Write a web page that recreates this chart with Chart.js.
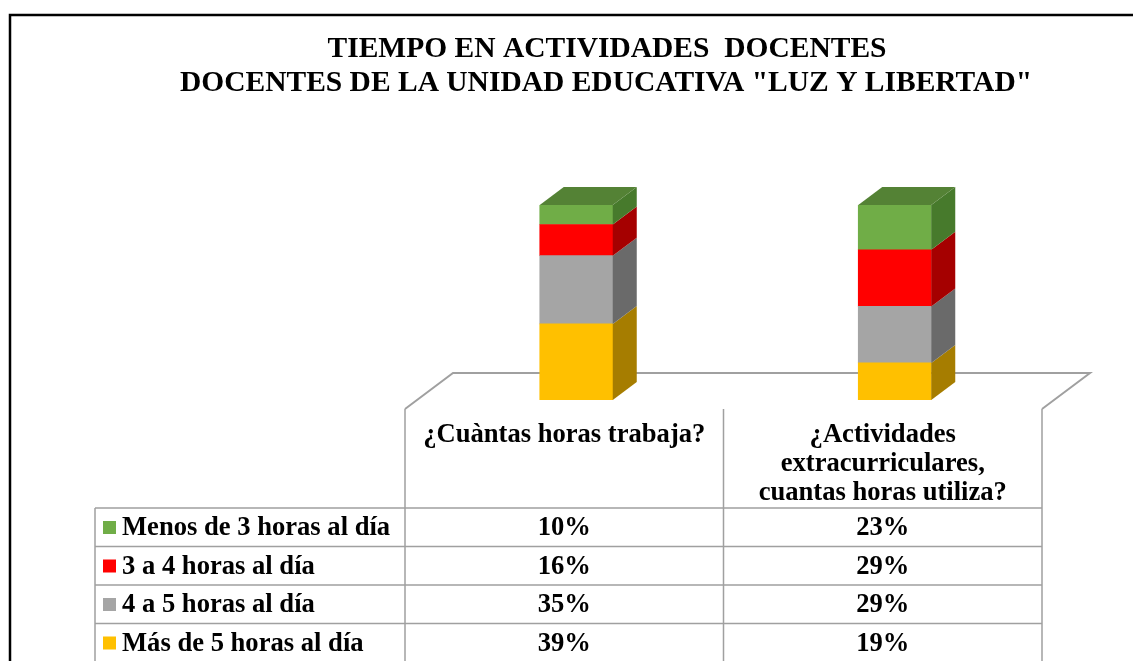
<!DOCTYPE html>
<html>
<head>
<meta charset="utf-8">
<script src="https://cdn.jsdelivr.net/npm/chart.js@4/dist/chart.umd.min.js"></script>
<style>
  html, body { margin: 0; padding: 0; background: #ffffff; }
  canvas { display: block; }
</style>
</head>
<body>
<canvas id="c" width="1133" height="661"></canvas>
<script>
// ---- Data ----
const titleLines = ['TIEMPO EN ACTIVIDADES  DOCENTES', 'DOCENTES DE LA UNIDAD EDUCATIVA "LUZ Y LIBERTAD"'];
const categories = ['¿Cuàntas horas trabaja?', '¿Actividades extracurriculares, cuantas horas utiliza?'];
const headerLines = [['¿Cuàntas horas trabaja?'], ['¿Actividades', 'extracurriculares,', 'cuantas horas utiliza?']];
const seriesNames = ['Menos de 3 horas al día', '3 a 4 horas al día', '4 a 5 horas al día', 'Más de 5 horas al día'];
const menos3 = [10, 23];
const de3a4 = [16, 29];
const de4a5 = [35, 29];
const mas5 = [39, 19];
const frontColors = ['#70AD47', '#FF0000', '#A5A5A5', '#FFC000'];
const sideColors  = ['#477A2C', '#A50000', '#6A6A6A', '#A67D00'];
const topColor = '#548235';

// table order (top to bottom) = seriesNames order; stacking is bottom-up (reverse)
const seriesValues = [menos3, de3a4, de4a5, mas5];

const DX = 24, DY = 18; // bar depth

const datasets = [3, 2, 1, 0].map(i => ({
  label: seriesNames[i],
  data: seriesValues[i],
  backgroundColor: frontColors[i],
  sideColor: sideColors[i],
  borderWidth: 0,
  barThickness: 73
}));

const FONT = "'Liberation Serif', 'Times New Roman', serif";

const threeD = {
  id: 'threeD',
  beforeDatasetsDraw(chart) {
    const ctx = chart.ctx, ca = chart.chartArea;
    const y0 = chart.scales.y.getPixelForValue(0);
    const fy = y0 + DY / 2, fl = ca.left - DX / 2, fr = ca.right - DX / 2;
    ctx.save();
    ctx.strokeStyle = '#A0A0A0';
    ctx.lineWidth = 2;
    ctx.beginPath();
    ctx.moveTo(fl, fy);
    ctx.lineTo(fl + 2 * DX, fy - 2 * DY);
    ctx.lineTo(fr + 2 * DX, fy - 2 * DY);
    ctx.lineTo(fr, fy);
    ctx.stroke();
    ctx.restore();
  },
  afterDatasetsDraw(chart) {
    const ctx = chart.ctx;
    const n = chart.data.datasets.length;
    ctx.save();
    chart.data.datasets.forEach((ds, di) => {
      const meta = chart.getDatasetMeta(di);
      meta.data.forEach(bar => {
        const p = bar.getProps(['x', 'y', 'base', 'width'], true);
        const l = p.x - p.width / 2, r = p.x + p.width / 2;
        ctx.fillStyle = ds.sideColor;
        ctx.beginPath();
        ctx.moveTo(r, p.y);
        ctx.lineTo(r + DX, p.y - DY);
        ctx.lineTo(r + DX, p.base - DY);
        ctx.lineTo(r, p.base);
        ctx.closePath();
        ctx.fill();
        if (di === n - 1) {
          ctx.fillStyle = topColor;
          ctx.beginPath();
          ctx.moveTo(l, p.y);
          ctx.lineTo(l + DX, p.y - DY);
          ctx.lineTo(r + DX, p.y - DY);
          ctx.lineTo(r, p.y);
          ctx.closePath();
          ctx.fill();
        }
      });
    });
    ctx.restore();
  },
  afterDraw(chart) {
    const ctx = chart.ctx, ca = chart.chartArea;
    const y0 = chart.scales.y.getPixelForValue(0);
    const top = y0 + DY / 2;
    const c0 = ca.left - DX / 2, c2 = ca.right - DX / 2, c1 = (c0 + c2) / 2;
    const legL = 95;
    const headerBottom = 508, rowH = 38.5;
    ctx.save();
    // outer border
    ctx.strokeStyle = '#000000';
    ctx.lineWidth = 2.5;
    ctx.strokeRect(10, 15, 1160, 700);

    // title
    ctx.fillStyle = '#000000';
    ctx.font = 'bold 29.5px ' + FONT;
    ctx.textAlign = 'center';
    ctx.textBaseline = 'alphabetic';
    ctx.fillText(titleLines[0], 607, 57);
    ctx.fillText(titleLines[1], 606, 91);

    // table lines
    ctx.strokeStyle = '#A0A0A0';
    ctx.lineWidth = 1.5;
    ctx.beginPath();
    [c0, c1, c2].forEach(x => { ctx.moveTo(x, top); ctx.lineTo(x, 661); });
    ctx.moveTo(legL, headerBottom); ctx.lineTo(legL, 661);
    for (let i = 0; i < 5; i++) {
      const y = headerBottom + i * rowH;
      ctx.moveTo(legL, y); ctx.lineTo(c2, y);
    }
    ctx.stroke();

    // header text
    ctx.font = 'bold 26.6px ' + FONT;
    ctx.fillStyle = '#000000';
    ctx.textAlign = 'center';
    const colCenters = [(c0 + c1) / 2, (c1 + c2) / 2];
    headerLines.forEach((lines, ci) => {
      lines.forEach((t, li) => ctx.fillText(t, colCenters[ci], 442 + li * 29));
    });

    // rows
    seriesNames.forEach((name, ri) => {
      const by = headerBottom + ri * rowH + 27;
      ctx.fillStyle = frontColors[ri];
      ctx.fillRect(103, headerBottom + ri * rowH + 13, 13, 13);
      ctx.fillStyle = '#000000';
      ctx.textAlign = 'left';
      ctx.fillText(name, 122, by);
      ctx.textAlign = 'center';
      seriesValues[ri].forEach((v, ci) => ctx.fillText(v + '%', colCenters[ci], by));
    });
    ctx.restore();
  }
};

new Chart(document.getElementById('c'), {
  type: 'bar',
  data: { labels: categories, datasets: datasets },
  options: {
    responsive: false,
    animation: false,
    layout: { padding: { left: 417, right: 79, top: 205, bottom: 261 } },
    plugins: { legend: { display: false }, tooltip: { enabled: false }, title: { display: false } },
    scales: {
      x: { display: false, stacked: true, offset: true },
      y: { display: false, stacked: true, min: 0, max: 100 }
    }
  },
  plugins: [threeD]
});
</script>
</body>
</html>
